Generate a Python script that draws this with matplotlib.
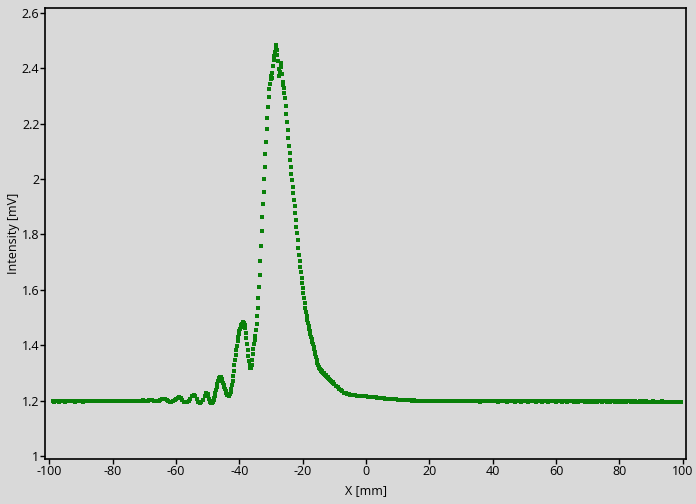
import numpy as np
import matplotlib
matplotlib.use('Agg')
import matplotlib.pyplot as plt
from matplotlib.ticker import FormatStrFormatter

plt.rcParams['font.family'] = ['Open Sans', 'DejaVu Sans']
plt.rcParams['axes.unicode_minus'] = False

# baseline on the left, 0.5 mm step
y_left = [
    1.197, 1.196, 1.198, 1.197, 1.196, 1.197, 1.198, 1.197, 1.196, 1.197,
    1.198, 1.197, 1.197, 1.198, 1.196, 1.197, 1.198, 1.198, 1.197, 1.196,
    1.197, 1.198, 1.199, 1.197, 1.198, 1.197, 1.198, 1.199, 1.198, 1.197,
    1.198, 1.199, 1.198, 1.197, 1.198, 1.199, 1.198, 1.197, 1.199, 1.198,
    1.199, 1.198, 1.197, 1.198, 1.199, 1.200, 1.198, 1.199, 1.198, 1.197,
    1.198, 1.199, 1.200, 1.199, 1.198, 1.199, 1.200, 1.201, 1.199,
    1.199, 1.200, 1.202, 1.203, 1.201, 1.199, 1.198, 1.198, 1.199, 1.201,
    1.204, 1.206, 1.205, 1.201, 1.198, 1.196, 1.196, 1.198, 1.202, 1.207,
    1.211, 1.212, 1.208, 1.201, 1.196, 1.194, 1.195, 1.199, 1.206, 1.215,
    1.220, 1.215, 1.205, 1.196, 1.192, 1.194, 1.203, 1.217, 1.227,
]
x_left = -99.0 + 0.5 * np.arange(len(y_left))

# peak region, 0.2 mm step from -50 mm
y_peak = [
    1.224, 1.216, 1.207, 1.199, 1.194, 1.191, 1.190, 1.191, 1.195, 1.201,
    1.209, 1.218, 1.228, 1.239, 1.250, 1.261, 1.270, 1.277, 1.282, 1.285,
    1.286, 1.284, 1.279, 1.272, 1.265, 1.257, 1.249, 1.241, 1.234, 1.228,
    1.224, 1.221, 1.219, 1.218, 1.219, 1.223, 1.231, 1.242, 1.256, 1.272,
    1.290, 1.308, 1.327, 1.345, 1.363, 1.381, 1.398, 1.414, 1.428, 1.440,
    1.450, 1.459, 1.466, 1.472, 1.477, 1.481, 1.484, 1.482, 1.474, 1.461,
    1.445, 1.426, 1.405, 1.383, 1.362, 1.343, 1.327, 1.317, 1.318, 1.330,
    1.348, 1.367, 1.386, 1.403, 1.418, 1.435, 1.455, 1.478, 1.505, 1.536,
    1.570, 1.610, 1.655, 1.705, 1.760, 1.812, 1.862, 1.910, 1.955, 2.000,
    2.045, 2.090, 2.135, 2.180, 2.222, 2.262, 2.297, 2.325, 2.345, 2.360,
    2.372, 2.365, 2.385, 2.410, 2.432, 2.446, 2.458, 2.472, 2.486, 2.468,
    2.447, 2.425, 2.398, 2.372, 2.386, 2.418, 2.405, 2.380, 2.352, 2.340,
    2.328, 2.312, 2.292, 2.265, 2.235, 2.205, 2.176, 2.148, 2.120, 2.094,
    2.068, 2.043, 2.019, 1.996, 1.973, 1.950, 1.926, 1.902, 1.878, 1.853,
    1.828, 1.804, 1.780, 1.750, 1.727, 1.705, 1.684, 1.663, 1.643, 1.624,
    1.605, 1.587, 1.569, 1.552, 1.536, 1.520, 1.504, 1.492, 1.481, 1.470,
    1.460, 1.450, 1.440, 1.431, 1.422, 1.413, 1.404, 1.394, 1.385, 1.376,
    1.367, 1.357, 1.347, 1.337, 1.328, 1.321, 1.317, 1.314, 1.311, 1.308,
    1.306, 1.303, 1.301, 1.298, 1.296, 1.293, 1.291, 1.288, 1.286, 1.284,
    1.281, 1.279, 1.277, 1.275, 1.272, 1.270, 1.268, 1.266, 1.264, 1.261,
]
x_peak = -50.0 + 0.2 * np.arange(len(y_peak))

# tail on the right, 0.5 mm step from -10 mm
y_right = [
    1.259, 1.253, 1.248, 1.242, 1.237, 1.233, 1.229, 1.226, 1.224, 1.222,
    1.221, 1.220, 1.219, 1.219, 1.218, 1.217, 1.217, 1.216, 1.216, 1.215,
    1.215, 1.214, 1.214, 1.213, 1.213, 1.212, 1.212, 1.211, 1.211, 1.210,
    1.209, 1.208, 1.207, 1.206, 1.206, 1.205, 1.205, 1.204, 1.204, 1.204,
    1.203, 1.203, 1.202, 1.203, 1.202, 1.201, 1.202, 1.201, 1.201, 1.200,
    1.201, 1.200, 1.200, 1.199, 1.200, 1.200, 1.199, 1.199, 1.200, 1.199,
    1.198, 1.199, 1.199, 1.198, 1.199, 1.198, 1.197, 1.198, 1.199, 1.198,
    1.198, 1.197, 1.198, 1.199, 1.198, 1.197, 1.198, 1.198, 1.197, 1.198,
    1.199, 1.198, 1.197, 1.198, 1.197, 1.198, 1.199, 1.197, 1.198, 1.197,
    1.198, 1.197, 1.196, 1.198, 1.197, 1.198, 1.197, 1.198, 1.199, 1.197,
    1.197, 1.198, 1.197, 1.196, 1.197, 1.198, 1.197, 1.197, 1.198, 1.196,
    1.197, 1.198, 1.197, 1.197, 1.196, 1.197, 1.198, 1.197, 1.196, 1.197,
    1.198, 1.197, 1.196, 1.197, 1.198, 1.197, 1.197, 1.196, 1.197, 1.198,
    1.197, 1.196, 1.197, 1.198, 1.197, 1.196, 1.197, 1.197, 1.198, 1.197,
    1.196, 1.197, 1.198, 1.197, 1.196, 1.197, 1.197, 1.196, 1.198, 1.197,
    1.197, 1.196, 1.197, 1.198, 1.196, 1.197, 1.197, 1.198, 1.196, 1.197,
    1.197, 1.196, 1.197, 1.196, 1.198, 1.197, 1.196, 1.197, 1.197, 1.196,
    1.197, 1.198, 1.196, 1.197, 1.196, 1.197, 1.197, 1.196, 1.197, 1.198,
    1.196, 1.197, 1.196, 1.197, 1.196, 1.197, 1.198, 1.196, 1.197, 1.196,
    1.197, 1.196, 1.196, 1.197, 1.196, 1.197, 1.196, 1.197, 1.196, 1.195,
    1.196, 1.197, 1.196, 1.195, 1.196, 1.196, 1.195, 1.197, 1.196, 1.195,
    1.196, 1.195, 1.196, 1.196, 1.195, 1.196, 1.195, 1.196, 1.195, 1.195,
]
x_right = -10.0 + 0.5 * np.arange(len(y_right))

x = np.concatenate([x_left, x_peak, x_right])
y = np.concatenate([y_left, y_peak, y_right])

xticks = [-100, -80, -60, -40, -20, 0, 20, 40, 60, 80, 100]
yticks = [1, 1.2, 1.4, 1.6, 1.8, 2, 2.2, 2.4, 2.6]

bg = '#d9d9d9'
fig = plt.figure(figsize=(6.96, 5.04), dpi=100, facecolor=bg)
ax = fig.add_axes([0.0647, 0.0893, 0.9209, 0.8948])
ax.set_facecolor(bg)

ax.plot(x, y, linestyle='none', marker='s', markersize=2.4,
        color='#0a800a', markeredgewidth=0)

ax.set_xlim(-101.4, 101.0)
ax.set_ylim(0.989, 2.618)
ax.set_xticks(xticks)
ax.set_yticks(yticks)
ax.yaxis.set_major_formatter(FormatStrFormatter('%g'))
ax.tick_params(direction='out', length=3.5, width=1, labelsize=9,
               colors='black', pad=0.5)
for s in ax.spines.values():
    s.set_linewidth(1.2)
    s.set_color('black')

ax.set_xlabel('X [mm]', fontsize=9, labelpad=5)
ax.set_ylabel('Intensity [mV]', fontsize=9, labelpad=1.5)

fig.savefig('out.png', dpi=100, facecolor=bg)
